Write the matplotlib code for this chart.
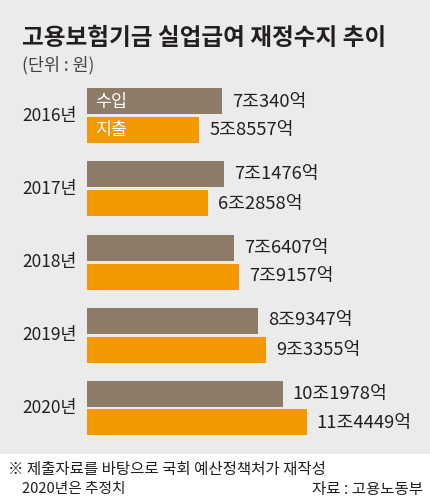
import matplotlib
matplotlib.use("Agg")
import matplotlib.pyplot as plt
from matplotlib.patches import Rectangle

plt.rcParams['font.family'] = ['Noto Sans CJK KR', 'DejaVu Sans']

years = ["2016년", "2017년", "2018년", "2019년", "2020년"]
income_eok = [70340, 71476, 76407, 89347, 101978]   # 수입 (억원)
expense_eok = [58557, 62858, 79157, 93355, 114449]  # 지출 (억원)
series_names = ["수입", "지출"]

title = "고용보험기금 실업급여 재정수지 추이"
unit = "(단위 : 원)"
note1 = "※ 제출자료를 바탕으로 국회 예산정책처가 재작성"
note2 = "2020년은 추정치"
source = "자료 : 고용노동부"

C_IN = "#8c7b67"
C_EX = "#f39800"
BG = "#ebebeb"
TXT = "#231f20"

W, H = 430, 498
fig = plt.figure(figsize=(W / 100, H / 100), dpi=100, facecolor="white")
fig.add_artist(Rectangle((0, 1 - 454 / H), 1, 454 / H, transform=fig.transFigure,
                         facecolor=BG, edgecolor="none", zorder=0))

x0 = 87
pxu = 19.19  # pixels per 조
ax = fig.add_axes([x0 / W, 0, 1 - x0 / W, 1])
ax.set_facecolor("none")
ax.set_xlim(0, (W - x0) / pxu)
gap = 73.0
ax.set_ylim((H - 116) / gap, -116 / gap)
ax.axis("off")

bh = 26 / gap
off = 14.5 / gap
ys = list(range(len(years)))
inc = [v / 10000 for v in income_eok]
exp_ = [v / 10000 for v in expense_eok]
ax.barh([y - off for y in ys], inc, height=bh, color=C_IN, zorder=2)
ax.barh([y + off for y in ys], exp_, height=bh, color=C_EX, zorder=2)

def lab(v):
    return f"{v // 10000}조{v % 10000}억"

dx = 10 / pxu
for y, vi, ve, a, b in zip(ys, inc, exp_, income_eok, expense_eok):
    ax.text(vi + dx, y - off, lab(a), va="center", ha="left", fontsize=13.2,
            color=TXT, fontweight="medium")
    ax.text(ve + dx, y + off, lab(b), va="center", ha="left", fontsize=13.2,
            color=TXT, fontweight="medium")
    ax.text(-10 / pxu, y, years[y], va="center", ha="right", fontsize=12.5, color=TXT)

ax.text(8 / pxu, -off, series_names[0], va="center", ha="left", fontsize=12.5, color="white")
ax.text(8 / pxu, off, series_names[1], va="center", ha="left", fontsize=12.5, color="white")

fig.text(22 / W, 1 - 38 / H, title, fontsize=17, fontweight="bold", color=TXT,
         va="center", ha="left")
fig.text(22 / W, 1 - 65 / H, unit, fontsize=12.5, color="#444444", va="center", ha="left")
fig.text(8 / W, 1 - 469 / H, note1, fontsize=11.2, color=TXT, va="center", ha="left")
fig.text(22 / W, 1 - 489 / H, note2, fontsize=10.6, color=TXT, va="center", ha="left")
fig.text(423 / W, 1 - 489 / H, source, fontsize=11.2, color=TXT, va="center", ha="right")

fig.savefig("out.png", dpi=100, facecolor="white")
